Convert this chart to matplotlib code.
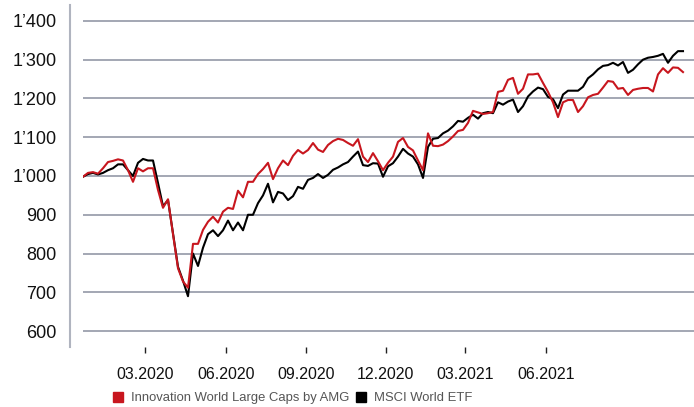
import numpy as np
import pandas as pd
from matplotlib import pyplot as plt
from matplotlib.lines import Line2D

# values (indexed to 1000), one point every ~4.7 days
innovation = [998, 1008, 1010, 1006, 1020, 1036, 1039, 1043, 1040, 1015,
              985, 1020, 1012, 1020, 1020, 964, 918, 940, 850, 762,
              728, 712, 825, 825, 861, 882, 895, 880, 908, 918,
              915, 962, 945, 985, 985, 1005, 1018, 1034, 992, 1020,
              1040, 1028, 1052, 1067, 1058, 1067, 1085, 1068, 1062, 1080,
              1090, 1096, 1093, 1085, 1078, 1095, 1050, 1036, 1059, 1038,
              1015, 1034, 1050, 1088, 1098, 1075, 1066, 1040, 1015, 1110,
              1078, 1077, 1081, 1090, 1102, 1116, 1119, 1137, 1168, 1164,
              1160, 1162, 1165, 1217, 1220, 1248, 1253, 1212, 1225, 1262,
              1262, 1264, 1240, 1217, 1190, 1152, 1190, 1196, 1196, 1165,
              1180, 1203, 1209, 1212, 1228, 1245, 1243, 1225, 1227, 1209,
              1222, 1225, 1227, 1227, 1218, 1262, 1278, 1266, 1280, 1279,
              1268]
msci = [998, 1005, 1008, 1004, 1008, 1015, 1020, 1030, 1030, 1015,
        1000, 1034, 1044, 1040, 1040, 982, 922, 938, 852, 766,
        730, 690, 800, 768, 815, 850, 860, 845, 860, 885,
        860, 880, 860, 900, 900, 930, 950, 980, 932, 959,
        955, 938, 948, 972, 967, 990, 995, 1005, 995, 1003,
        1016, 1022, 1030, 1036, 1050, 1063, 1028, 1026, 1033, 1032,
        998, 1025, 1033, 1050, 1070, 1058, 1050, 1030, 995, 1075,
        1096, 1098, 1110, 1117, 1128, 1142, 1140, 1150, 1158, 1148,
        1162, 1165, 1162, 1190, 1184, 1192, 1197, 1165, 1180, 1205,
        1218, 1228, 1224, 1204, 1198, 1175, 1210, 1220, 1220, 1220,
        1230, 1252, 1262, 1275, 1284, 1286, 1292, 1285, 1294, 1266,
        1274, 1288, 1300, 1305, 1307, 1310, 1315, 1292, 1310, 1322,
        1322]
dates = pd.date_range("2019-12-16", "2021-07-05", periods=len(msci))

tick_dates = pd.to_datetime(["2020-02-13", "2020-04-29", "2020-07-14",
                             "2020-09-27", "2020-12-11", "2021-02-26"])
tick_labels = ["03.2020", "06.2020", "09.2020", "12.2020", "03.2021", "06.2021"]
y_ticks = [600, 700, 800, 900, 1000, 1100, 1200, 1300, 1400]
y_labels = ["600", "700", "800", "900", "1\u2019000", "1\u2019100",
            "1\u2019200", "1\u2019300", "1\u2019400"]

red = "#c8161e"
grid_col = "#a3a7b3"

plt.rcParams["font.family"] = ["Liberation Sans", "DejaVu Sans"]

W, H = 694, 407
fig = plt.figure(figsize=(W / 100, H / 100), dpi=100)
ax = fig.add_axes([83 / W, 60 / H, (W - 83) / W, 342 / H])

ax.plot(dates, msci, color="black", lw=1.5)
ax.plot(dates, innovation, color=red, lw=1.5)

span_days = (dates[-1] - dates[0]).days
ax.set_xlim(dates[0], dates[0] + pd.Timedelta(days=span_days * 611 / 600))
ax.set_ylim(559, 1441)

ax.set_yticks(y_ticks)
ax.set_yticklabels(y_labels, fontsize=13, color="#111111")
ax.tick_params(axis="y", length=0, pad=19)
for v in y_ticks:
    ax.axhline(v, color=grid_col, lw=1.4, zorder=0)

ax.set_xticks(tick_dates)
ax.set_xticklabels(tick_labels, fontsize=11.5, color="#111111")
ax.tick_params(axis="x", length=4.5, width=1, color="#222222", pad=10)

for s in ax.spines.values():
    s.set_visible(False)

# vertical axis line sits left of the plot area
fig.add_artist(Line2D([70 / W, 70 / W], [(H - 347) / H, (H - 5) / H],
                      color="#b0b4bf", lw=1.5))

handles = [Line2D([], [], marker="s", ls="", color=red, markersize=6.5),
           Line2D([], [], marker="s", ls="", color="black", markersize=6.5)]
leg = fig.legend(handles, ["Innovation World Large Caps by AMG", "MSCI World ETF"],
                 loc="center left", bbox_to_anchor=(113 / W, 1 - 398 / H), ncol=2,
                 frameon=False, fontsize=9.4, handlelength=0.7, handletextpad=0.7,
                 columnspacing=0.5, borderpad=0, borderaxespad=0)
for t in leg.get_texts():
    t.set_color("#555555")

fig.savefig("out.png", dpi=100)
